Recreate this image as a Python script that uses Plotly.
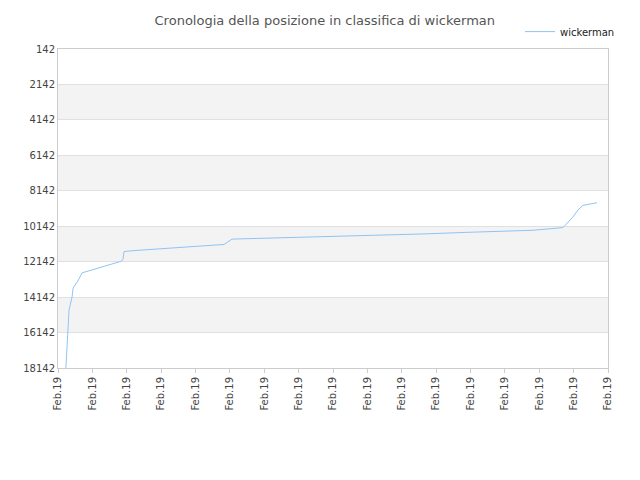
import plotly.graph_objects as go

# x in tick units (0 = first "Feb.19" tick), y = ranking position
x_pos = [0.23, 0.26, 0.29, 0.32, 0.35, 0.38, 0.41, 0.44, 0.58, 0.70, 1.83, 1.89, 1.92,
         2.18, 2.56, 2.91, 3.35, 3.78, 4.22, 4.65, 4.83, 5.06, 5.59, 6.69, 7.71, 8.87,
         9.89, 10.76, 11.78, 12.80, 13.82, 14.40, 14.69, 14.98, 15.13, 15.27, 15.56, 15.68]
rank = [18142, 17139, 15534, 14882, 14631, 14380, 14130, 13628, 13227, 12775, 12123, 12022, 11571,
        11521, 11471, 11420, 11370, 11320, 11270, 11220, 11170, 10869, 10845, 10795, 10745, 10670,
        10620, 10570, 10495, 10445, 10370, 10270, 10220, 9618, 9217, 8966, 8866, 8816]
tick_vals = list(range(17))
tick_text = ["Feb.19"] * 17
y_ticks = [142, 2142, 4142, 6142, 8142, 10142, 12142, 14142, 16142, 18142]

fig = go.Figure()
fig.add_trace(go.Scatter(x=x_pos, y=rank, mode="lines", name="wickerman",
                         line=dict(color="#90c4f4", width=1)))

# alternating grey bands
for i in range(len(y_ticks) - 1):
    if i % 2 == 1:
        fig.add_hrect(y0=y_ticks[i], y1=y_ticks[i + 1], fillcolor="#f3f3f3",
                      line_width=0, layer="below")

fig.update_layout(
    width=640, height=480,
    paper_bgcolor="white", plot_bgcolor="white",
    margin=dict(l=50, r=40, t=41, b=120, autoexpand=False),
    font=dict(family="DejaVu Sans", size=10, color="#444"),
    title=dict(text="Cronologia della posizione in classifica di wickerman",
               x=0.495, xanchor="center", y=0.975, yanchor="middle",
               font=dict(size=13, color="#555")),
    showlegend=True,
    legend=dict(x=0.84, y=1.1, xanchor="left", yanchor="top", font=dict(size=10, color="#222"),
                bgcolor="rgba(0,0,0,0)"),
    xaxis=dict(range=[0, 16], tickvals=tick_vals, ticktext=tick_text, tickangle=-90,
               showgrid=False, showline=True, linecolor="#ccc", ticks="outside",
               tickcolor="#ccc", ticklen=4, mirror=True, zeroline=False, automargin=False),
    yaxis=dict(range=[18142, 142], tickvals=y_ticks, ticktext=[str(v) for v in y_ticks],
               showgrid=True, gridcolor="#e0e0e0", showline=True, linecolor="#ccc",
               mirror=True, zeroline=False, ticks="", automargin=False),
)

fig.write_html("out.html")
